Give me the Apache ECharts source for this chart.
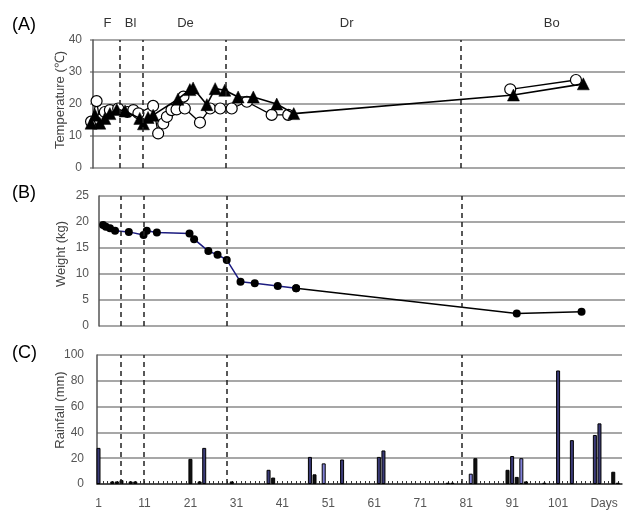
<!DOCTYPE html>
<html><head><meta charset="utf-8">
<script src="https://cdn.jsdelivr.net/npm/echarts@6/dist/echarts.min.js"></script>
<style>html,body{margin:0;padding:0;background:#fff}#c{width:628px;height:511px}</style>
</head><body><div id="c"></div>
<script>
// ---------------- DATA ----------------
const phaseNames = ['F', 'Bl', 'De', 'Dr', 'Bo'];
const phaseBoundaries = [5.9, 10.8, 28.8, 80.0];

// Panel A: temperature (°C)
const circleDays = [-0.4, 0.8, 1.5, 2.6, 3.7, 5.5, 7.5, 8.8, 9.9, 13.1, 14.2, 15.3, 16.1, 17.1, 18.2, 19.7, 20.0, 23.3, 25.5, 27.7, 30.2, 33.5, 38.9, 42.5];
const circleTemps = [14.5, 20.9, 15, 17.5, 18.1, 18.6, 17.5, 18.1, 17.1, 19.4, 10.8, 13.9, 16, 18.1, 18.3, 22.3, 18.6, 14.2, 18.6, 18.6, 18.6, 20.7, 16.6, 16.6];
const circleBoDays = [90.8, 105.1];
const circleBoTemps = [24.6, 27.5];
const triDays = [-0.4, 0.5, 1.5, 2.6, 3.7, 5.2, 7.0, 10.2, 11.0, 12.0, 13.1, 18.5, 21.1, 21.8, 24.8, 26.6, 28.7, 31.6, 34.9, 40.0, 43.7, 91.5, 106.7];
const triTemps = [14, 16.5, 14, 15.5, 17, 18.3, 17.8, 15.5, 13.8, 15.8, 16.5, 21.5, 24.5, 25, 19.8, 24.8, 24.3, 22.2, 22.2, 20, 17, 22.8, 26.3];

// Panel B: weight (kg)
const weightDays = [2.0, 2.6, 3.5, 4.6, 7.6, 10.8, 11.5, 13.7, 20.8, 21.8, 24.9, 26.9, 28.9, 31.9, 35.0, 40.0, 44.0, 92.0, 106.1];
const weightKg = [19.4, 19.1, 18.8, 18.3, 18.1, 17.5, 18.3, 18.0, 17.8, 16.7, 14.4, 13.7, 12.7, 8.5, 8.2, 7.7, 7.25, 2.4, 2.75];
const weightTailStart = 16;

// Panel C: rainfall (mm)
const rainNavyDays = [1, 24, 38, 47, 54, 62, 63, 91, 101, 104, 109, 110];
const rainNavy = [28, 28, 11, 21, 19, 21, 26, 21.7, 88, 34, 38, 47];
const rainLightDays = [50, 82, 93];
const rainLight = [16, 8, 20];
const rainBlackDays = [4, 5, 6, 8, 9, 21, 23, 30, 39, 48, 77, 78, 83, 90, 92, 94, 98, 113, 114];
const rainBlack = [2, 2, 3, 2, 2, 19.5, 2, 2, 5, 7.5, 1, 1, 20, 11, 5.5, 2, 1, 9.5, 1];

const dayTickLabels = [1, 11, 21, 31, 41, 51, 61, 71, 81, 91, 101, 111];
const lastTickName = 'Days';

// ---------------- LAYOUT ----------------
const PPD = 4.596; // px per day
function range(left, width, day1px) {
  return { min: 1 + (left - day1px) / PPD, max: 1 + (left + width - day1px) / PPD };
}
const gA = { left: 90, top: 40, width: 535, height: 128 };
const gB = { left: 99, top: 196, width: 526, height: 130 };
const gC = { left: 97, top: 355, width: 525, height: 129 };
const rA = range(gA.left, gA.width, 97.5);
const rB = range(gB.left, gB.width, 98.5);
const rC = range(gC.left, gC.width, 98.5);

const FONT = "'Liberation Sans Narrow','Arial Narrow','Liberation Sans',Arial,sans-serif";
const zip = (a, b) => a.map((v, i) => [v, b[i]]);

const gridLine = { show: true, lineStyle: { color: '#8a8a8a', width: 1.5 } };
function yAxis(idx, max, interval, margin) {
  return {
    gridIndex: idx, type: 'value', min: 0, max: max, interval: interval,
    axisLine: { show: true, lineStyle: { color: '#555', width: 1.5 } },
    axisTick: { show: false },
    axisLabel: { color: '#555', fontSize: 12, fontFamily: FONT, margin: margin },
    splitLine: gridLine
  };
}
const dashLines = {
  silent: true, symbol: 'none', label: { show: false },
  lineStyle: { color: '#222', type: [5, 4], width: 1.5 },
  data: phaseBoundaries.map(d => ({ xAxis: d }))
};

const dayTicks = [];
for (let d = 1; d <= 114; d++) dayTicks.push(d);

const option = {
  animation: false,
  backgroundColor: '#fff',
  grid: [
    Object.assign({}, gA),
    Object.assign({}, gB),
    Object.assign({}, gC)
  ],
  xAxis: [
    { gridIndex: 0, type: 'value', min: rA.min, max: rA.max, show: false },
    { gridIndex: 1, type: 'value', min: rB.min, max: rB.max, show: false },
    {
      gridIndex: 2, type: 'value', min: rC.min, max: rC.max,
      axisLine: { show: true, lineStyle: { color: '#333', width: 1.5 } },
      axisTick: { show: true, inside: true, length: 3, customValues: dayTicks, lineStyle: { color: '#333', width: 1 } },
      axisLabel: {
        customValues: dayTickLabels, color: '#555', fontSize: 12, fontFamily: FONT, margin: 14,
        formatter: v => (v === dayTickLabels[dayTickLabels.length - 1] ? lastTickName : String(v))
      },
      splitLine: { show: false }
    }
  ],
  yAxis: [yAxis(0, 40, 10, 8), yAxis(1, 25, 5, 10), yAxis(2, 100, 20, 13)],
  series: [
    {
      type: 'line', xAxisIndex: 0, yAxisIndex: 0, data: zip(circleDays, circleTemps),
      symbol: 'circle', symbolSize: 11, showAllSymbol: true,
      itemStyle: { color: '#fff', borderColor: '#000', borderWidth: 1.2 },
      lineStyle: { color: '#000', width: 1.3 }, z: 3, markLine: dashLines
    },
    {
      type: 'line', xAxisIndex: 0, yAxisIndex: 0, data: zip(circleBoDays, circleBoTemps),
      symbol: 'circle', symbolSize: 11,
      itemStyle: { color: '#fff', borderColor: '#000', borderWidth: 1.2 },
      lineStyle: { color: '#000', width: 1.3 }, z: 3
    },
    {
      type: 'line', xAxisIndex: 0, yAxisIndex: 0, data: zip(triDays, triTemps),
      symbol: 'triangle', symbolSize: 12, showAllSymbol: true,
      itemStyle: { color: '#000', borderColor: '#000', borderWidth: 0.5 },
      lineStyle: { color: '#000', width: 1.6 }, z: 4
    },
    {
      type: 'line', xAxisIndex: 1, yAxisIndex: 1,
      data: zip(weightDays, weightKg).slice(0, weightTailStart + 1),
      symbol: 'circle', symbolSize: 8, showAllSymbol: true,
      itemStyle: { color: '#000' }, lineStyle: { color: '#1c1c80', width: 1.5 }, z: 4,
      markLine: dashLines
    },
    {
      type: 'line', xAxisIndex: 1, yAxisIndex: 1,
      data: zip(weightDays, weightKg).slice(weightTailStart),
      symbol: 'circle', symbolSize: 8,
      itemStyle: { color: '#000' }, lineStyle: { color: '#000', width: 1.5 }, z: 3
    },
    {
      type: 'bar', xAxisIndex: 2, yAxisIndex: 2, data: zip(rainNavyDays, rainNavy),
      barWidth: 4, barGap: '-100%',
      itemStyle: { color: '#3b3b78', borderColor: '#000', borderWidth: 1 },
      markLine: dashLines
    },
    {
      type: 'bar', xAxisIndex: 2, yAxisIndex: 2, data: zip(rainLightDays, rainLight),
      barWidth: 4, barGap: '-100%',
      itemStyle: { color: '#8282d8', borderColor: '#000', borderWidth: 1 }
    },
    {
      type: 'bar', xAxisIndex: 2, yAxisIndex: 2, data: zip(rainBlackDays, rainBlack),
      barWidth: 4, barGap: '-100%',
      itemStyle: { color: '#111', borderColor: '#000', borderWidth: 1 }
    }
  ],
  graphic: [
    { type: 'text', left: 12, top: 16, style: { text: '(A)', font: '18px ' + FONT, fill: '#000' } },
    { type: 'text', left: 12, top: 184, style: { text: '(B)', font: '18px ' + FONT, fill: '#000' } },
    { type: 'text', left: 12, top: 344, style: { text: '(C)', font: '18px ' + FONT, fill: '#000' } },
    { type: 'text', x: 107.5, y: 23, style: { text: phaseNames[0], font: '13px ' + FONT, fill: '#333', align: 'center', verticalAlign: 'middle' } },
    { type: 'text', x: 130.5, y: 23, style: { text: phaseNames[1], font: '13px ' + FONT, fill: '#333', align: 'center', verticalAlign: 'middle' } },
    { type: 'text', x: 185.5, y: 23, style: { text: phaseNames[2], font: '13px ' + FONT, fill: '#333', align: 'center', verticalAlign: 'middle' } },
    { type: 'text', x: 346.7, y: 23, style: { text: phaseNames[3], font: '13px ' + FONT, fill: '#333', align: 'center', verticalAlign: 'middle' } },
    { type: 'text', x: 551.7, y: 23, style: { text: phaseNames[4], font: '13px ' + FONT, fill: '#333', align: 'center', verticalAlign: 'middle' } },
    { type: 'text', x: 60, y: 100, rotation: Math.PI / 2, style: { text: 'Temperature (℃)', font: '13px ' + FONT, fill: '#444', align: 'center', verticalAlign: 'middle' } },
    { type: 'text', x: 61.5, y: 254, rotation: Math.PI / 2, style: { text: 'Weight (kg)', font: '13px ' + FONT, fill: '#444', align: 'center', verticalAlign: 'middle' } },
    { type: 'text', x: 60, y: 410, rotation: Math.PI / 2, style: { text: 'Rainfall (mm)', font: '13px ' + FONT, fill: '#444', align: 'center', verticalAlign: 'middle' } }
  ]
};
const chart = echarts.init(document.getElementById('c'), null, { renderer: 'canvas' });
chart.setOption(option);
</script>
</body></html>
